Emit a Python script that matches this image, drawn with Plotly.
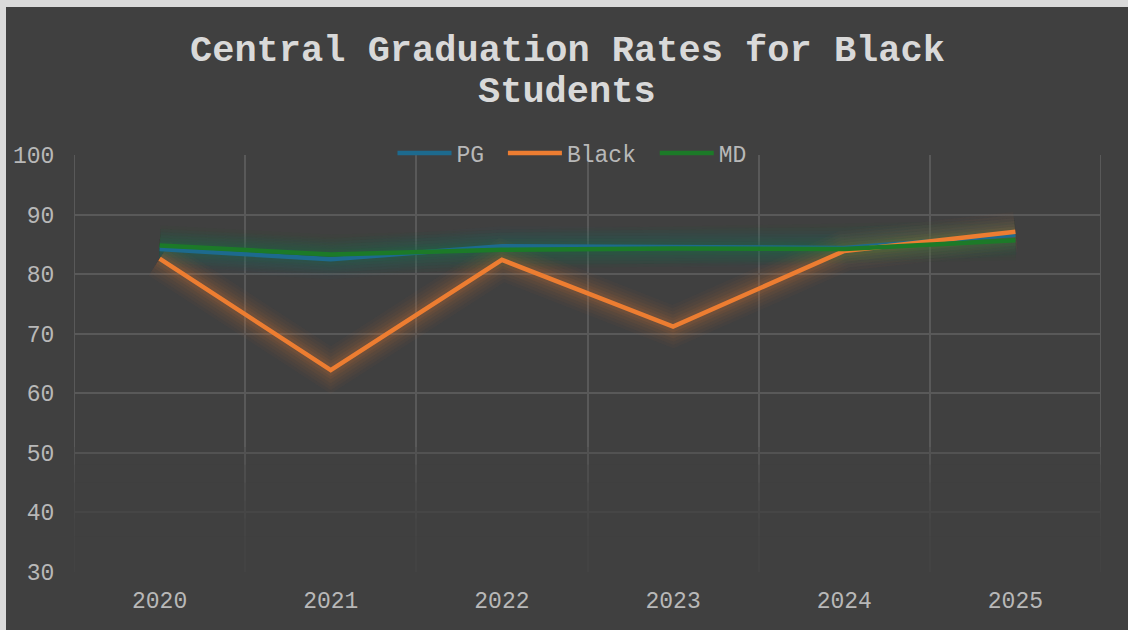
import plotly.graph_objects as go

years = ["2020", "2021", "2022", "2023", "2024", "2025"]
pg = [84.2, 82.5, 84.7, 84.6, 84.4, 86.6]
black = [82.6, 63.9, 82.4, 71.2, 83.9, 87.1]
md = [84.8, 83.3, 84.1, 84.3, 84.2, 85.7]
y_ticks = [30, 40, 50, 60, 70, 80, 90, 100]
legend_names = ["PG\u00a0", "Black\u00a0", "MD"]

OX, OY = 6, 7                 # page offset of the chart (light frame)
W, H = 1128 - OX, 630 - OY
L, R, T, B = 74 - OX, 1101 - OX, 155 - OY, 572 - OY
FONT = "Liberation Mono, Courier New, monospace"
BG = "#404040"
GRID = "#595959"
TICK_COL = "#b8b8b8"

def px_x(p):
    return (p - OX - L) / (R - L)

def px_y(p):
    return (B - (p - OY)) / (B - T)

series = [
    (legend_names[0], pg, "#1d6a8e", "rgba(29,106,142,{a})"),
    (legend_names[1], black, "#ed7d31", "rgba(237,125,49,{a})"),
    (legend_names[2], md, "#1c7a28", "rgba(28,122,40,{a})"),
]

fig = go.Figure()
for name, vals, col, glow in series:
    for w, a in [(40, 0.035), (34, 0.04), (28, 0.045), (22, 0.055), (16, 0.065), (11, 0.08)]:
        fig.add_trace(go.Scatter(x=years, y=vals, mode="lines", showlegend=False,
                                 hoverinfo="skip",
                                 line=dict(color=glow.format(a=a), width=w)))
for name, vals, col, glow in series:
    fig.add_trace(go.Scatter(x=years, y=vals, mode="lines", name=name,
                             line=dict(color=col, width=4.5)))

n = len(years)
shapes = []
for xb in [-0.5, n - 0.5]:
    shapes.append(dict(type="line", xref="x", yref="y", x0=xb, x1=xb, y0=30, y1=100,
                       line=dict(color=GRID, width=2), layer="below"))
for top in [51, 48, 45, 42, 39, 36]:
    shapes.append(dict(type="rect", xref="x", yref="y", x0=-0.6, x1=n - 0.4, y0=29, y1=top,
                       fillcolor="rgba(64,64,64,0.28)", line=dict(width=0), layer="between"))

annotations = [
    dict(text="<b>Central Graduation Rates for Black</b>", xref="paper", yref="paper",
         x=px_x(567), y=px_y(51), xanchor="center", yanchor="middle", showarrow=False,
         font=dict(family=FONT, size=37, color="#d9d9d9")),
    dict(text="<b>Students</b>", xref="paper", yref="paper",
         x=px_x(567), y=px_y(92), xanchor="center", yanchor="middle", showarrow=False,
         font=dict(family=FONT, size=37, color="#d9d9d9")),
]

fig.update_layout(
    width=W, height=H,
    margin=dict(l=L, r=W - R, t=T, b=H - B, pad=0, autoexpand=False),
    paper_bgcolor=BG, plot_bgcolor=BG,
    font=dict(family=FONT, size=23, color=TICK_COL),
    shapes=shapes, annotations=annotations,
    showlegend=True,
    legend=dict(orientation="h", x=px_x(572), y=px_y(153), xanchor="center", yanchor="middle",
                bgcolor="rgba(0,0,0,0)", font=dict(family=FONT, size=23, color=TICK_COL),
                itemwidth=54, tracegroupgap=0),
)
fig.update_xaxes(type="category", range=[-0.5, n - 0.5], tickson="boundaries",
                 showgrid=True, gridcolor=GRID, gridwidth=2,
                 ticks="", ticklabelstandoff=12,
                 showline=False, zeroline=False, automargin=False,
                 tickfont=dict(family=FONT, size=23, color=TICK_COL))
fig.update_yaxes(range=[30, 100], tickvals=y_ticks, showgrid=True, gridcolor=GRID, gridwidth=2,
                 ticks="outside", ticklen=14, tickcolor="rgba(0,0,0,0)",
                 showline=False, zeroline=False, automargin=False,
                 tickfont=dict(family=FONT, size=23, color=TICK_COL))

post = ("document.body.style.margin='%dpx 0 0 %dpx';"
        "document.body.style.background='#dadada';"
        "document.body.style.overflow='hidden';") % (OY, OX)
fig.write_html("out.html", post_script=post)
